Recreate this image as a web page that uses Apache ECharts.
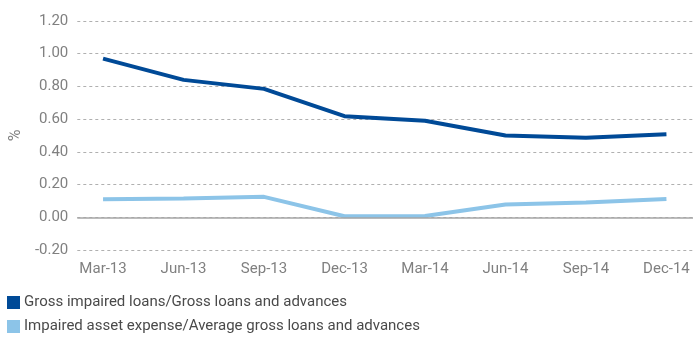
<!DOCTYPE html>
<html><head><meta charset="utf-8">
<script src="https://cdn.jsdelivr.net/npm/echarts@6/dist/echarts.min.js"></script>
<style>html,body{margin:0;padding:0;background:#fff}#c{width:694px;height:338px}</style>
</head><body><div id="c"></div>
<script>
var categories = ['Mar-13','Jun-13','Sep-13','Dec-13','Mar-14','Jun-14','Sep-14','Dec-14'];
var grossImpaired = [0.97, 0.84, 0.785, 0.618, 0.59, 0.50, 0.486, 0.508];
var impairedExpense = [0.11, 0.115, 0.125, 0.006, 0.008, 0.078, 0.09, 0.112];
var yTicks = [-0.2, 0, 0.2, 0.4, 0.6, 0.8, 1.0, 1.2];
var names = ['Gross impaired loans/Gross loans and advances','Impaired asset expense/Average gross loans and advances'];

var font = "Roboto, sans-serif";
function pairs(arr){ return arr.map(function(v,i){ return [i, v]; }); }
function legendFor(name, top){
  return {
    left: 7, top: top, padding: 0, itemWidth: 13, itemHeight: 13, icon: 'rect', itemGap: 0,
    textStyle: { fontFamily: font, fontSize: 15, color: '#4a4a4a', padding: [0,0,0,-1] },
    data: [name]
  };
}
var chart = echarts.init(document.getElementById('c'));
chart.setOption({
  animation: false,
  textStyle: { fontFamily: font },
  grid: { left: 72, right: 1, top: 21, bottom: 88 },
  legend: [ legendFor(names[0], 295), legendFor(names[1], 319) ],
  xAxis: {
    type: 'value', min: -0.32, max: 7.33,
    axisLine: { show: false }, axisTick: { show: false }, splitLine: { show: false },
    axisLabel: {
      customValues: categories.map(function(c,i){ return i; }),
      formatter: function(v){ return categories[Math.round(v)] || ''; },
      fontFamily: font, fontSize: 15, color: '#808080', margin: 12
    }
  },
  yAxis: {
    type: 'value', min: yTicks[0], max: yTicks[yTicks.length-1], interval: 0.2,
    name: '%', nameLocation: 'middle', nameGap: 52, nameRotate: 90,
    nameTextStyle: { fontFamily: font, fontSize: 16, color: '#808080' },
    axisLine: { show: false }, axisTick: { show: false },
    axisLabel: { formatter: function(v){ return v.toFixed(2); }, fontFamily: font, fontSize: 15, color: '#808080', margin: 9 },
    splitLine: { lineStyle: { type: [3,3], color: '#b0b0b0', width: 1 } }
  },
  series: [
    { name: names[0], type: 'line', data: pairs(grossImpaired), showSymbol: false,
      lineStyle: { color: '#004a97', width: 4 }, itemStyle: { color: '#004a97' },
      markLine: { silent: true, symbol: 'none', label: { show: false },
        lineStyle: { color: '#a6a6a6', type: 'solid', width: 1.5 }, data: [{ yAxis: 0 }] }, z: 3 },
    { name: names[1], type: 'line', data: pairs(impairedExpense), showSymbol: false,
      lineStyle: { color: '#8cc4e8', width: 4 }, itemStyle: { color: '#8cc4e8' }, z: 3 }
  ]
});
</script></body></html>
